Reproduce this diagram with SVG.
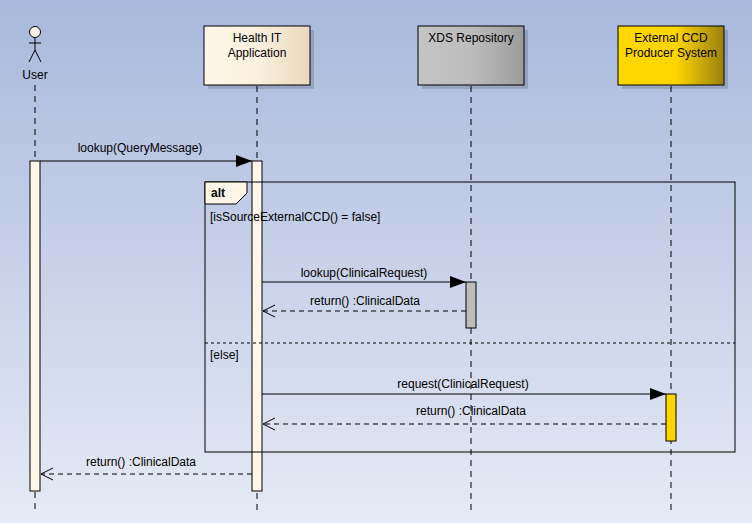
<svg xmlns="http://www.w3.org/2000/svg" width="752" height="523" viewBox="0 0 752 523">
<defs>
<linearGradient id="bg" x1="0" y1="0" x2="0" y2="1"><stop offset="0" stop-color="#a9b8dc"/><stop offset="1" stop-color="#e6eaf5"/></linearGradient>
<linearGradient id="gH" x1="0" y1="0" x2="1" y2="0"><stop offset="0" stop-color="#fdf6e9"/><stop offset="0.5" stop-color="#fbf1df"/><stop offset="1" stop-color="#e8d8bc"/></linearGradient>
<linearGradient id="gX" x1="0" y1="0" x2="1" y2="0"><stop offset="0" stop-color="#c4c4c4"/><stop offset="0.5" stop-color="#bcbcbc"/><stop offset="1" stop-color="#9c9c9c"/></linearGradient>
<linearGradient id="gE" x1="0" y1="0" x2="1" y2="0"><stop offset="0" stop-color="#ffd800"/><stop offset="0.55" stop-color="#ffd500"/><stop offset="1" stop-color="#9a8010"/></linearGradient>
<marker id="fa" markerWidth="16" markerHeight="12" refX="16" refY="6" orient="auto" markerUnits="userSpaceOnUse"><path d="M0,0 L16,6 L0,12 Z" fill="#000"/></marker>
<marker id="oa" markerWidth="14" markerHeight="14" refX="13" refY="7" orient="auto" markerUnits="userSpaceOnUse"><path d="M1,1 L13,7 L1,13" fill="none" stroke="#000"/></marker>
</defs>
<style>
text{font-family:"Liberation Sans",Arial,sans-serif;font-size:12px;fill:#000}
.life{stroke:#000;stroke-dasharray:6,5;fill:none}
.box{stroke:#000;stroke-width:1}
.sh{fill:#000;opacity:0.15}
.act{stroke:#000;stroke-width:1}
.msg{stroke:#000;fill:none}
.ret{stroke:#000;fill:none;stroke-dasharray:5,4}
</style>
<rect width="752" height="523" fill="url(#bg)"/>
<g id="lifelines">
<line class="life" x1="35" y1="85" x2="35" y2="512"/>
<line class="life" x1="257" y1="86" x2="257" y2="512"/>
<line class="life" x1="471" y1="86" x2="471" y2="512"/>
<line class="life" x1="671" y1="86" x2="671" y2="512"/>
</g>
<g id="User">
<circle cx="35" cy="32" r="5.5" fill="#fdf6e9" stroke="#000"/>
<path d="M35,38 V50 M29,43 H41 M29,62 L35,50 L41,62" stroke="#000" fill="none"/>
<text x="35" y="79" text-anchor="middle">User</text>
</g>
<g id="HealthIT">
<rect class="sh" x="208" y="30" width="106" height="59"/>
<rect class="box" x="204" y="26" width="106" height="59" fill="url(#gH)"/>
<text x="257" y="42" text-anchor="middle">Health IT</text>
<text x="257" y="57" text-anchor="middle">Application</text>
</g>
<g id="XDS">
<rect class="sh" x="422" y="30" width="106" height="59"/>
<rect class="box" x="418" y="26" width="106" height="59" fill="url(#gX)"/>
<text x="471" y="42" text-anchor="middle">XDS Repository</text>
</g>
<g id="External">
<rect class="sh" x="622" y="30" width="106" height="59"/>
<rect class="box" x="618" y="26" width="106" height="59" fill="url(#gE)"/>
<text x="671" y="42" text-anchor="middle">External CCD</text>
<text x="671" y="57" text-anchor="middle">Producer System</text>
</g>
<g id="activations">
<rect class="act" x="30" y="161" width="10" height="330" fill="#fdf6e9"/>
<rect class="act" x="252" y="161" width="10" height="330" fill="#fdf6e9"/>
<rect class="act" x="466" y="282" width="10" height="46" fill="#bcbcbc"/>
<rect class="act" x="666" y="394" width="10" height="47" fill="#ffd500"/>
</g>
<g id="alt">
<rect x="205" y="182" width="530" height="270" fill="none" stroke="#000"/>
<path d="M205,182 H247 V193 L236,204 H205 Z" fill="#fdf6e9" stroke="#000"/>
<text x="211" y="197" font-weight="bold">alt</text>
<text x="210" y="221">[isSourceExternalCCD() = false]</text>
<line x1="205" y1="343" x2="735" y2="343" stroke="#000" stroke-dasharray="3,3"/>
<text x="210" y="359">[else]</text>
</g>
<g id="connectors">
<line class="msg" x1="40" y1="161" x2="252" y2="161" marker-end="url(#fa)"/>
<text x="140" y="152" text-anchor="middle">lookup(QueryMessage)</text>
<line class="msg" x1="262" y1="282" x2="466" y2="282" marker-end="url(#fa)"/>
<text x="364" y="277" text-anchor="middle">lookup(ClinicalRequest)</text>
<line class="ret" x1="466" y1="311" x2="263" y2="311" marker-end="url(#oa)"/>
<text x="365" y="305" text-anchor="middle">return() :ClinicalData</text>
<line class="msg" x1="262" y1="394" x2="666" y2="394" marker-end="url(#fa)"/>
<text x="463" y="388" text-anchor="middle">request(ClinicalRequest)</text>
<line class="ret" x1="666" y1="424" x2="263" y2="424" marker-end="url(#oa)"/>
<text x="471" y="415" text-anchor="middle">return() :ClinicalData</text>
<line class="ret" x1="252" y1="474" x2="41" y2="474" marker-end="url(#oa)"/>
<text x="141" y="466" text-anchor="middle">return() :ClinicalData</text>
</g>
</svg>
